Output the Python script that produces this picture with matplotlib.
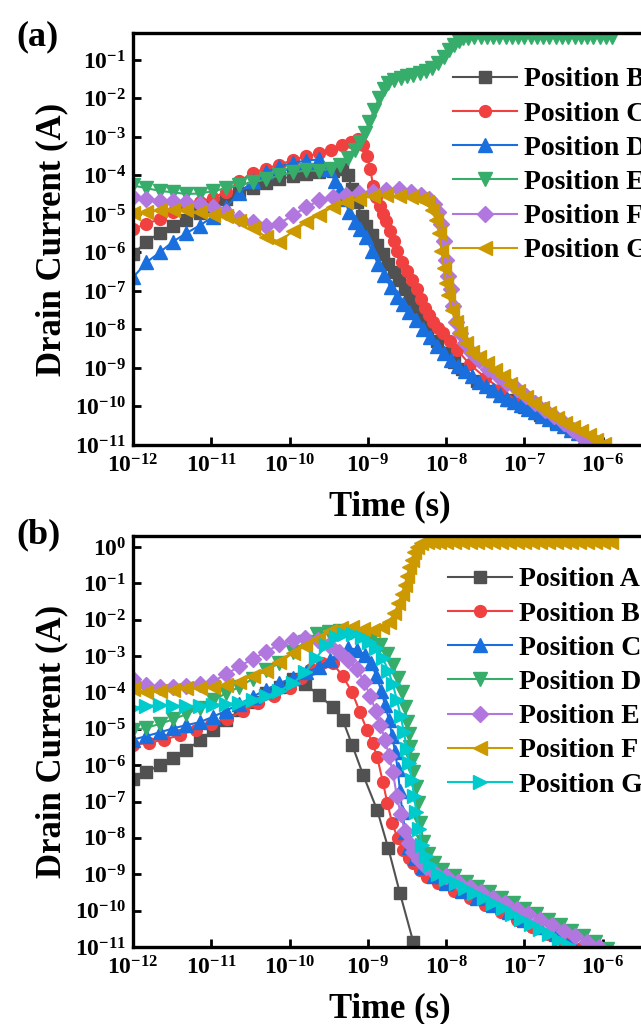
import numpy as np
import matplotlib
matplotlib.use('Agg')
import matplotlib.pyplot as plt

plt.rcParams['font.family'] = ['Liberation Serif', 'DejaVu Serif']
plt.rcParams['font.weight'] = 'bold'
plt.rcParams['mathtext.fontset'] = 'custom'
plt.rcParams['mathtext.rm'] = 'Liberation Serif:bold'
plt.rcParams['mathtext.bf'] = 'Liberation Serif:bold'
plt.rcParams['axes.linewidth'] = 2.4

# Origin-style colours
colors = ['#515151', '#F14040', '#1A6FDF', '#37AD6B', '#B177DE', '#CC9900', '#00CBCC']
markers = ['s', 'o', '^', 'v', 'D', '<', '>']
msizes = [8, 8.5, 10, 10, 8.5, 10, 10]

# ---------------- panel (a): log10(time / s), log10(current / A) ----------------
a_labels = ['Position B', 'Position C', 'Position D', 'Position E', 'Position F', 'Position G']

aB_t = [-12.0, -11.83, -11.66, -11.49, -11.32, -11.15, -10.98, -10.81, -10.64, -10.47, -10.3, -10.13,
        -9.96, -9.79, -9.62, -9.45, -9.33, -9.26, -9.2, -9.14, -9.08, -9.02, -8.95, -8.88, -8.81, -8.74,
        -8.67, -8.6, -8.53, -8.46, -8.39, -8.32, -8.24, -8.12, -8.0, -7.9, -7.8, -7.6, -7.4, -7.2, -7.0,
        -6.8, -6.6, -6.4, -6.2, -6.0]
aB_i = [-6.05, -5.72, -5.5, -5.32, -5.15, -4.98, -4.79, -4.6, -4.45, -4.32, -4.2, -4.1,
        -4.02, -3.96, -3.92, -3.88, -3.84, -4.0, -4.35, -4.7, -5.05, -5.3, -5.55, -5.8, -6.05, -6.3,
        -6.5, -6.72, -6.95, -7.2, -7.42, -7.65, -7.95, -8.3, -8.62, -8.85, -9.03, -9.35, -9.6, -9.82, -10.02,
        -10.22, -10.42, -10.62, -10.82, -11.02]

aC_t = [-12.0, -11.83, -11.66, -11.49, -11.32, -11.15, -10.98, -10.81, -10.64, -10.47, -10.3, -10.13,
        -9.96, -9.79, -9.62, -9.47, -9.33, -9.22, -9.13, -9.06, -9.01, -8.97, -8.93, -8.89, -8.85, -8.81,
        -8.77, -8.72, -8.67, -8.63, -8.56, -8.5, -8.43, -8.37, -8.32, -8.27, -8.22, -8.17, -8.1, -8.04,
        -7.95, -7.86, -7.7, -7.5, -7.3, -7.1, -6.9, -6.7, -6.5, -6.3, -6.1]
aC_i = [-5.4, -5.25, -5.14, -4.95, -4.78, -4.68, -4.58, -4.42, -4.15, -3.93, -3.82, -3.72,
        -3.6, -3.5, -3.43, -3.33, -3.2, -3.12, -3.06, -3.2, -3.5, -3.84, -4.28, -4.55, -4.8, -5.0,
        -5.19, -5.45, -5.7, -5.95, -6.25, -6.49, -6.72, -6.96, -7.2, -7.43, -7.62, -7.8, -7.95, -8.08,
        -8.3, -8.53, -8.9, -9.25, -9.55, -9.85, -10.1, -10.3, -10.5, -10.7, -10.9]

aD_t = [-12.0, -11.83, -11.66, -11.49, -11.32, -11.15, -10.98, -10.81, -10.64, -10.47, -10.3, -10.13,
        -9.96, -9.79, -9.62, -9.5, -9.42, -9.36, -9.3, -9.24, -9.17, -9.1, -9.03, -8.95, -8.87, -8.79,
        -8.71, -8.63, -8.55, -8.47, -8.39, -8.3, -8.21, -8.12, -8.03, -7.94, -7.85, -7.76, -7.67, -7.58,
        -7.49, -7.4, -7.31, -7.22, -7.13, -7.04, -6.95, -6.86, -6.77, -6.68, -6.59, -6.5, -6.41, -6.32,
        -6.23, -6.14, -6.05, -5.96]
aD_i = [-6.65, -6.26, -6.0, -5.72, -5.5, -5.3, -5.08, -4.82, -4.45, -4.15, -3.92, -3.77,
        -3.67, -3.62, -3.58, -3.82, -4.15, -4.38, -4.62, -4.95, -5.2, -5.4, -5.6, -5.95, -6.3, -6.58,
        -6.9, -7.15, -7.35, -7.55, -7.75, -7.98, -8.2, -8.42, -8.6, -8.78, -8.95, -9.08, -9.22, -9.37,
        -9.48, -9.58, -9.7, -9.8, -9.88, -9.97, -10.06, -10.15, -10.24, -10.33, -10.42, -10.51, -10.6, -10.69,
        -10.78, -10.87, -10.96, -11.05]

aE_t = [-12.0, -11.83, -11.66, -11.49, -11.32, -11.15, -10.98, -10.81, -10.64, -10.47, -10.3, -10.13,
        -9.96, -9.79, -9.62, -9.47, -9.35, -9.25, -9.17, -9.1, -9.04, -8.98, -8.92, -8.86, -8.8, -8.74,
        -8.66, -8.58, -8.5, -8.42, -8.34, -8.26, -8.18, -8.1, -8.03, -7.96, -7.9, -7.84, -7.78, -7.72,
        -7.64, -7.56, -7.48, -7.4, -7.32, -7.24, -7.16, -7.08, -7.0, -6.92, -6.84, -6.76, -6.68, -6.6,
        -6.52, -6.44, -6.36, -6.28, -6.2, -6.12, -6.04, -5.96, -5.88]
aE_i = [-4.26, -4.33, -4.4, -4.44, -4.48, -4.47, -4.41, -4.33, -4.25, -4.18, -4.1, -4.0,
        -3.92, -3.87, -3.88, -3.82, -3.72, -3.55, -3.35, -3.12, -2.9, -2.6, -2.3, -2.0, -1.75, -1.6,
        -1.52, -1.48, -1.43, -1.4, -1.35, -1.3, -1.22, -1.08, -0.92, -0.75, -0.6, -0.5, -0.44, -0.42,
        -0.41, -0.41, -0.41, -0.41, -0.41, -0.41, -0.41, -0.41, -0.41, -0.41, -0.41, -0.41, -0.41, -0.41,
        -0.41, -0.41, -0.41, -0.41, -0.41, -0.41, -0.41, -0.41, -0.41]

aF_t = [-12.0, -11.83, -11.66, -11.49, -11.32, -11.15, -10.98, -10.81, -10.64, -10.47, -10.3, -10.13,
        -9.96, -9.79, -9.62, -9.45, -9.28, -9.11, -8.94, -8.77, -8.6, -8.45, -8.32, -8.22, -8.15, -8.1,
        -8.06, -8.03, -8.0, -7.97, -7.94, -7.91, -7.87, -7.82, -7.76, -7.68, -7.58, -7.46, -7.34, -7.22,
        -7.1, -6.98, -6.86, -6.74, -6.62, -6.5, -6.38, -6.26, -6.14, -6.02]
aF_i = [-4.55, -4.62, -4.66, -4.67, -4.69, -4.74, -4.82, -4.96, -5.1, -5.22, -5.3, -5.25,
        -5.03, -4.83, -4.65, -4.55, -4.5, -4.46, -4.42, -4.38, -4.36, -4.42, -4.5, -4.6, -4.75, -4.95,
        -5.25, -5.7, -6.2, -6.6, -6.95, -7.4, -7.8, -8.1, -8.35, -8.58, -8.8, -9.02, -9.2, -9.38,
        -9.55, -9.72, -9.9, -10.08, -10.25, -10.42, -10.6, -10.78, -10.96, -11.14]

aG_t = [-12.0, -11.83, -11.66, -11.49, -11.32, -11.15, -10.98, -10.81, -10.64, -10.47, -10.3, -10.13,
        -9.96, -9.79, -9.62, -9.45, -9.28, -9.11, -8.94, -8.77, -8.6, -8.45, -8.32, -8.24, -8.18, -8.13,
        -8.09, -8.06, -8.03, -8.0, -7.97, -7.93, -7.88, -7.82, -7.75, -7.67, -7.58, -7.48, -7.38, -7.28,
        -7.18, -7.08, -6.98, -6.88, -6.78, -6.68, -6.58, -6.48, -6.38, -6.28, -6.18, -6.08, -5.98]
aG_i = [-4.97, -4.95, -4.91, -4.89, -4.91, -4.96, -5.02, -5.06, -5.18, -5.36, -5.6, -5.72,
        -5.45, -5.22, -5.02, -4.82, -4.7, -4.6, -4.54, -4.52, -4.53, -4.56, -4.6, -4.7, -4.9, -5.15,
        -5.5, -5.95, -6.4, -6.8, -7.1, -7.5, -7.8, -8.08, -8.35, -8.58, -8.72, -8.88, -9.05, -9.22,
        -9.42, -9.6, -9.76, -9.9, -10.04, -10.17, -10.3, -10.42, -10.53, -10.64, -10.75, -10.86, -10.97]

# ---------------- panel (b) ----------------
b_labels = ['Position A', 'Position B', 'Position C', 'Position D', 'Position E', 'Position F', 'Position G']

bA_t = [-12.0, -11.83, -11.66, -11.49, -11.32, -11.14, -10.98, -10.81, -10.63, -10.47, -10.3, -10.12,
        -9.95, -9.8, -9.62, -9.45, -9.32, -9.2, -9.06, -8.88, -8.74, -8.59, -8.42, -8.28]
bA_i = [-6.37, -6.19, -6.0, -5.81, -5.59, -5.31, -5.04, -4.76, -4.49, -4.27, -4.02, -3.84,
        -3.62, -3.78, -4.08, -4.41, -4.76, -5.45, -6.27, -7.24, -8.28, -9.52, -10.86, -12.0]

bB_t = [-12.0, -11.8, -11.6, -11.4, -11.2, -11.0, -10.8, -10.6, -10.4, -10.2, -10.0, -9.85,
        -9.72, -9.58, -9.45, -9.32, -9.2, -9.1, -9.01, -8.94, -8.88, -8.81, -8.75, -8.69, -8.62, -8.55,
        -8.48, -8.42, -8.34, -8.25, -8.1, -7.9, -7.7, -7.5, -7.3, -7.1, -6.9, -6.7, -6.5, -6.3]
bB_i = [-5.45, -5.38, -5.3, -5.17, -5.02, -4.86, -4.72, -4.52, -4.3, -4.1, -3.88, -3.6,
        -3.35, -3.18, -3.2, -3.55, -4.0, -4.55, -5.04, -5.4, -5.78, -6.45, -7.05, -7.59, -8.0, -8.34,
        -8.55, -8.69, -8.88, -9.08, -9.25, -9.45, -9.65, -9.85, -10.05, -10.25, -10.45, -10.65, -10.85, -11.05]

bC_t = [-12.0, -11.83, -11.66, -11.49, -11.32, -11.15, -10.98, -10.81, -10.64, -10.47, -10.3, -10.13,
        -9.96, -9.79, -9.62, -9.48, -9.36, -9.25, -9.14, -9.04, -8.96, -8.89, -8.83, -8.78, -8.73, -8.69,
        -8.65, -8.62, -8.59, -8.56, -8.52, -8.47, -8.4, -8.3, -8.15, -8.0, -7.8, -7.6, -7.4, -7.2,
        -7.0, -6.8, -6.6, -6.4]
bC_i = [-5.3, -5.2, -5.1, -4.99, -4.9, -4.82, -4.67, -4.5, -4.32, -4.12, -3.92, -3.75,
        -3.6, -3.45, -3.3, -3.1, -2.9, -2.78, -2.82, -2.98, -3.2, -3.55, -3.95, -4.35, -4.75, -5.2,
        -5.65, -6.1, -6.7, -7.3, -7.85, -8.25, -8.55, -8.8, -9.05, -9.25, -9.45, -9.65, -9.85, -10.05,
        -10.25, -10.45, -10.65, -10.85]

bD_t = [-12.0, -11.83, -11.66, -11.49, -11.32, -11.15, -10.98, -10.81, -10.64, -10.47, -10.3, -10.13,
        -9.96, -9.8, -9.65, -9.5, -9.36, -9.22, -9.08, -8.95, -8.84, -8.75, -8.68, -8.62, -8.57, -8.53,
        -8.5, -8.48, -8.46, -8.44, -8.42, -8.39, -8.36, -8.33, -8.29, -8.23, -8.15, -8.05, -7.9, -7.75,
        -7.6, -7.45, -7.3, -7.15, -7.0, -6.85, -6.7, -6.55, -6.4, -6.25, -6.1, -5.95]
bD_i = [-5.04, -4.97, -4.87, -4.74, -4.6, -4.42, -4.22, -4.02, -3.85, -3.62, -3.38, -3.2,
        -2.9, -2.6, -2.38, -2.33, -2.32, -2.35, -2.42, -2.5, -2.7, -2.95, -3.25, -3.6, -4.0, -4.4,
        -4.8, -5.15, -5.5, -5.85, -6.2, -6.6, -7.05, -7.6, -8.1, -8.45, -8.7, -8.88, -9.05, -9.2,
        -9.35, -9.5, -9.65, -9.8, -9.95, -10.1, -10.25, -10.4, -10.55, -10.7, -10.87, -11.05]

bE_t = [-12.0, -11.83, -11.66, -11.49, -11.32, -11.15, -10.98, -10.81, -10.64, -10.47, -10.3, -10.13,
        -9.96, -9.8, -9.64, -9.5, -9.37, -9.25, -9.14, -9.05, -8.97, -8.9, -8.84, -8.78, -8.73, -8.68,
        -8.63, -8.58, -8.53, -8.48, -8.42, -8.35, -8.26, -8.15, -8.0, -7.85, -7.7, -7.55, -7.4, -7.25,
        -7.1, -6.95, -6.8, -6.65, -6.5, -6.35, -6.2, -6.05]
bE_i = [-3.62, -3.8, -3.86, -3.86, -3.82, -3.78, -3.7, -3.5, -3.28, -3.08, -2.88, -2.68,
        -2.57, -2.5, -2.55, -2.7, -2.9, -3.12, -3.35, -3.7, -4.1, -4.5, -4.9, -5.3, -5.75, -6.2,
        -6.85, -7.35, -7.8, -8.15, -8.4, -8.6, -8.8, -8.95, -9.05, -9.2, -9.35, -9.5, -9.65, -9.8,
        -9.95, -10.1, -10.25, -10.4, -10.55, -10.7, -10.85, -11.0]

bF_t = [-12.0, -11.83, -11.66, -11.49, -11.32, -11.15, -10.98, -10.81, -10.64, -10.47, -10.3, -10.13,
        -9.96, -9.8, -9.64, -9.48, -9.34, -9.2, -9.06, -8.93, -8.82, -8.73, -8.66, -8.61, -8.57, -8.53,
        -8.5, -8.47, -8.44, -8.41, -8.37, -8.32, -8.25, -8.17, -8.09, -8.0, -7.9, -7.8, -7.7, -7.6,
        -7.5, -7.4, -7.3, -7.2, -7.1, -7.0, -6.9, -6.8, -6.7, -6.6, -6.5, -6.4, -6.3, -6.2,
        -6.1, -6.0, -5.9]
bF_i = [-3.9, -4.0, -3.97, -3.92, -3.89, -3.87, -3.86, -3.8, -3.7, -3.55, -3.4, -3.15,
        -2.92, -2.72, -2.52, -2.3, -2.22, -2.21, -2.25, -2.28, -2.2, -2.05, -1.82, -1.55, -1.3, -1.05,
        -0.8, -0.55, -0.35, -0.15, 0.0, 0.1, 0.13, 0.14, 0.14, 0.14, 0.14, 0.14, 0.14, 0.14,
        0.14, 0.14, 0.14, 0.14, 0.14, 0.14, 0.14, 0.14, 0.14, 0.14, 0.14, 0.14, 0.14, 0.14,
        0.14, 0.14, 0.14]

bG_t = [-12.0, -11.83, -11.66, -11.49, -11.32, -11.15, -10.98, -10.81, -10.64, -10.47, -10.3, -10.13,
        -9.96, -9.8, -9.66, -9.53, -9.41, -9.3, -9.19, -9.08, -8.98, -8.89, -8.81, -8.74, -8.68, -8.63,
        -8.58, -8.54, -8.5, -8.47, -8.44, -8.41, -8.38, -8.35, -8.31, -8.26, -8.2, -8.1, -8.0, -7.88,
        -7.76, -7.64, -7.52, -7.4, -7.28, -7.16, -7.04, -6.92, -6.8, -6.68, -6.56, -6.44, -6.32]
bG_i = [-4.42, -4.37, -4.35, -4.36, -4.38, -4.36, -4.34, -4.32, -4.28, -4.2, -4.1, -3.96,
        -3.75, -3.45, -3.05, -2.7, -2.48, -2.38, -2.4, -2.48, -2.6, -2.78, -3.05, -3.4, -3.78, -4.2,
        -4.65, -5.1, -5.55, -5.95, -6.4, -6.85, -7.3, -7.75, -8.2, -8.5, -8.75, -9.0, -9.12, -9.25,
        -9.38, -9.52, -9.66, -9.8, -9.94, -10.08, -10.22, -10.36, -10.5, -10.65, -10.8, -10.95, -11.1]

a_series = [(aB_t, aB_i), (aC_t, aC_i), (aD_t, aD_i), (aE_t, aE_i), (aF_t, aF_i), (aG_t, aG_i)]
b_series = [(bA_t, bA_i), (bB_t, bB_i), (bC_t, bC_i), (bD_t, bD_i), (bE_t, bE_i), (bF_t, bF_i), (bG_t, bG_i)]

W, H = 641, 1024
fig = plt.figure(figsize=(W / 100, H / 100), dpi=100)


def px_axes(left, top, right, bottom):
    return fig.add_axes([left / W, 1 - bottom / H, (right - left) / W, (bottom - top) / H])


def draw_panel(ax, series, labels, cols, marks, sizes, ytop, ymax_exp, leg_xy):
    for (lt, li), lab, c, m, s in zip(series, labels, cols, marks, sizes):
        ax.plot(10.0 ** np.array(lt), 10.0 ** np.array(li), color=c, marker=m, ms=s,
                lw=1.5, mec=c, label=lab)
    ax.set_xscale('log')
    ax.set_yscale('log')
    ax.set_xlim(1e-12, 1e-5)
    ax.set_ylim(1e-11, ytop)
    ax.set_xticks([10.0 ** k for k in range(-12, -4)])
    ax.set_yticks([10.0 ** k for k in range(-11, ymax_exp + 1)])
    ax.minorticks_off()
    ax.tick_params(direction='in', length=6, width=2, labelsize=17)
    ax.tick_params(axis='x', pad=7)
    ax.tick_params(axis='y', pad=5)
    ax.set_xlabel('Time (s)', fontsize=25, fontweight='bold')
    ax.set_ylabel('Drain Current (A)', fontsize=25, fontweight='bold')
    ax.xaxis.set_label_coords(0.469, -0.11)
    ax.yaxis.set_label_coords(-0.118, 0.5)
    ax.legend(loc='upper left', bbox_to_anchor=(leg_xy[0] / W, 1 - leg_xy[1] / H),
              bbox_transform=fig.transFigure, frameon=False, fontsize=20,
              handlelength=2.3, handletextpad=0.25, labelspacing=0.315,
              borderpad=0, borderaxespad=0)


ax_a = px_axes(133, 33, 681, 445)
draw_panel(ax_a, a_series, a_labels, colors[:6], markers[:6], msizes[:6], 0.5, -1, (453, 67))

ax_b = px_axes(133, 536, 681, 947)
draw_panel(ax_b, b_series, b_labels, colors, markers, msizes, 2.0, 0, (448, 567))

fig.text(16 / W, 1 - 37 / H, '(a)', fontsize=26, fontweight='bold', va='center', ha='left')
fig.text(16 / W, 1 - 535 / H, '(b)', fontsize=26, fontweight='bold', va='center', ha='left')

fig.savefig('out.png', dpi=100)
